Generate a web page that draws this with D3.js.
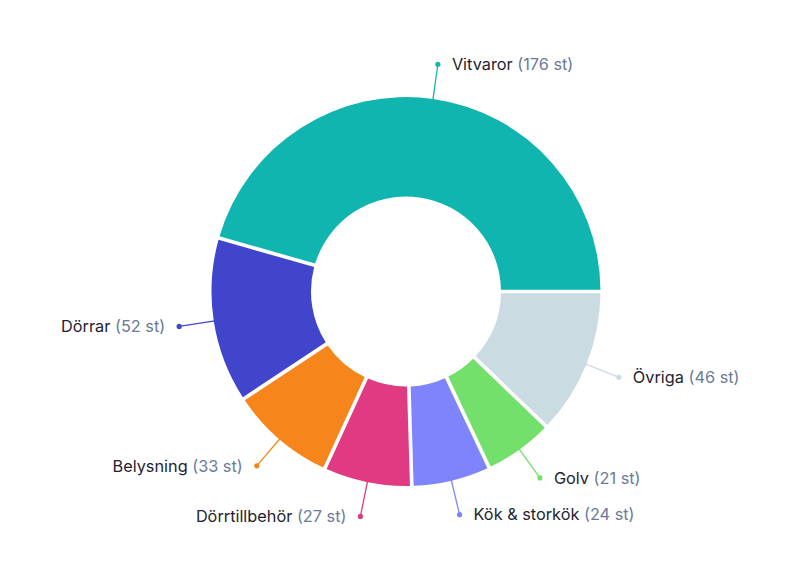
<!DOCTYPE html>
<html><head><meta charset="utf-8">
<script src="https://cdn.jsdelivr.net/npm/d3@7"></script>
<style>body{margin:0;background:#fff}svg{display:block}</style>
</head><body>
<svg id="c" width="800" height="583"></svg>
<script>
const categories = ["Vitvaror","Övriga","Golv","Kök & storkök","Dörrtillbehör","Belysning","Dörrar"];
const values = [176,46,21,24,27,33,52];
const colors = ["#10b5b0","#cadce2","#72e06a","#7e84fb","#e03b82","#f6861b","#4045cb"];
const unit = "st";

const svg = d3.select("#c");
const cx = 406, cy = 291.5, R = 194.5, r0 = 95;
const total = d3.sum(values);
const pad = 1.4 * Math.PI / 180;
const k = (2*Math.PI - values.length*pad) / total;
const startA = Math.PI/2 - (values[0]*k + pad);
const pie = d3.pie().sort(null).padAngle(pad).startAngle(startA).endAngle(startA + 2*Math.PI);
const arcs = pie(values);
const arc = d3.arc().innerRadius(r0).outerRadius(R).padRadius(150);
const g = svg.append("g").attr("transform",`translate(${cx},${cy})`);
g.selectAll("path.s").data(arcs).join("path").attr("class","s")
  .attr("d",arc).attr("fill",(d,i)=>colors[i]);

const pt = (a,rad)=>[Math.sin(a)*rad, -Math.cos(a)*rad];
arcs.forEach((d,i)=>{
  const m = (d.startAngle+d.endAngle)/2;
  const p1 = pt(m,R-1), p2 = pt(m,229.5);
  g.append("line").attr("x1",p1[0]).attr("y1",p1[1]).attr("x2",p2[0]).attr("y2",p2[1])
    .attr("stroke",colors[i]).attr("stroke-width",1.3);
  g.append("circle").attr("cx",p2[0]).attr("cy",p2[1]).attr("r",2.6).attr("fill",colors[i]);
  const right = Math.sin(m) >= 0;
  const t = g.append("text").attr("x",p2[0] + (right?14:-14)).attr("y",p2[1])
    .attr("dy","0.35em").attr("text-anchor",right?"start":"end")
    .attr("font-family","Inter, 'Noto Sans', sans-serif").attr("font-size",16.3);
  t.append("tspan").attr("fill","#1e2330").text(categories[i]);
  t.append("tspan").attr("fill","#6b7a99").text(` (${values[i]} ${unit})`);
});
</script>
</body></html>
